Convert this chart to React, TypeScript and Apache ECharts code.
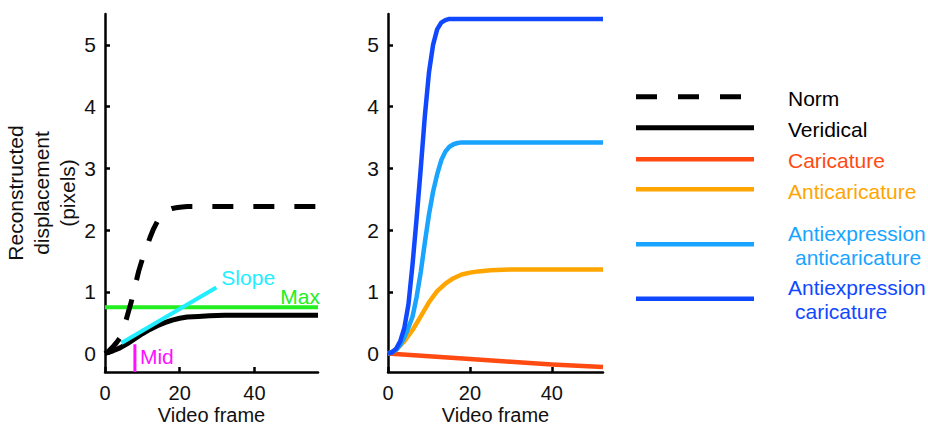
import React, { useEffect, useRef } from "react";
import * as echarts from "echarts";

// ---------- data ----------
const xTicks = [0, 20, 40];
const yTicks = [0, 1, 2, 3, 4, 5];
const yMin = -0.3;
const yMax = 5.5;
const leftXMax = 57;
const rightXMax = 52.5;

// Left panel
const normFrames = [0, 1, 2, 3, 4, 5, 6, 7, 8, 9, 10, 11, 12, 13, 14, 15, 16, 17, 18, 19, 20, 22, 25, 57];
const normValues = [0, 0.04, 0.1, 0.17, 0.25, 0.4, 0.62, 0.83, 1.08, 1.33, 1.53, 1.7, 1.87, 2.02, 2.14, 2.23, 2.29, 2.33, 2.35, 2.36, 2.37, 2.38, 2.38, 2.38];

const veridicalFrames = [0, 2, 4, 6, 8, 10, 12, 14, 16, 18, 20, 22, 25, 28, 32, 57];
const veridicalValues = [0, 0.04, 0.09, 0.16, 0.24, 0.32, 0.39, 0.45, 0.5, 0.54, 0.57, 0.59, 0.6, 0.61, 0.62, 0.62];

const maxFrames = [0, 57];
const maxValues = [0.75, 0.75];
const slopeFrames = [4.4, 29.8];
const slopeValues = [0.17, 1.07];
const midFrames = [8, 8];
const midValues = [-0.3, 0.15];

// Right panel
const caricatureFrames = [0, 10, 20, 30, 40, 52.5];
const caricatureValues = [0, -0.045, -0.09, -0.135, -0.18, -0.22];

const anticaricatureFrames = [0, 2, 4, 6, 8, 10, 12, 14, 16, 18, 20, 22, 25, 30, 52.5];
const anticaricatureValues = [0, 0.06, 0.2, 0.38, 0.6, 0.83, 1.01, 1.13, 1.22, 1.28, 1.31, 1.33, 1.35, 1.36, 1.36];

const antiAntiFrames = [0, 1, 2, 3, 4, 5, 6, 7, 8, 9, 10, 11, 12, 13, 14, 15, 16, 17, 18, 52.5];
const antiAntiValues = [0, 0.02, 0.06, 0.14, 0.26, 0.42, 0.6, 0.92, 1.32, 1.8, 2.25, 2.62, 2.9, 3.13, 3.27, 3.35, 3.39, 3.41, 3.42, 3.42];

const antiCaricFrames = [0, 1, 2, 3, 4, 5, 6, 7, 8, 9, 10, 11, 12, 13, 14, 15, 52.5];
const antiCaricValues = [0, 0.02, 0.08, 0.2, 0.42, 0.8, 1.45, 2.2, 3.0, 3.85, 4.55, 5.0, 5.25, 5.36, 5.4, 5.42, 5.42];

const legendLabels = ["Norm", "Veridical", "Caricature", "Anticaricature", "Antiexpression\nanticaricature", "Antiexpression\ncaricature"];

// ---------- styles ----------
const FONT = "'Liberation Sans', Arial, sans-serif";
const FS = 21;
const C_NORM = "#000000";
const C_CARIC = "#ff4a12";
const C_ANTICARIC = "#ffa500";
const C_AEAC = "#18a4ff";
const C_AEC = "#1048ff";
const C_MAX = "#22ee22";
const C_SLOPE = "#22eeff";
const C_MID = "#ff11ff";

const zip = (xs: number[], ys: number[]) => xs.map((x, i) => [x, ys[i]]);

function lineSeries(name: string, xi: number, xs: number[], ys: number[], color: string, width: number, type: any = "solid", z = 2) {
  return {
    type: "line",
    name,
    xAxisIndex: xi,
    yAxisIndex: xi,
    data: zip(xs, ys),
    showSymbol: false,
    symbol: "none",
    silent: true,
    z,
    lineStyle: { color, width, type, cap: "butt", join: "round" },
  };
}

function axisX(gridIndex: number, max: number) {
  return {
    type: "value",
    gridIndex,
    min: 0,
    max,
    name: "Video frame",
    nameLocation: "middle",
    nameGap: 33,
    nameMoveOverlap: false,
    nameTextStyle: { fontFamily: FONT, fontSize: 20, color: "#111" },
    axisLine: { onZero: false, lineStyle: { color: "#000", width: 2.5 } },
    axisTick: { inside: true, length: 5, customValues: xTicks, lineStyle: { color: "#000", width: 2.5 } },
    axisLabel: { customValues: xTicks, margin: 11, fontFamily: FONT, fontSize: 20, color: "#111" },
    splitLine: { show: false },
  };
}

function axisY(gridIndex: number, withName: boolean) {
  return {
    type: "value",
    gridIndex,
    min: yMin,
    max: yMax,
    name: withName ? "Reconstructed\ndisplacement\n(pixels)" : "",
    nameLocation: "middle",
    nameRotate: 90,
    nameGap: 21,
    nameTextStyle: { fontFamily: FONT, fontSize: FS, color: "#111", lineHeight: 26, align: "center" },
    axisLine: { onZero: false, lineStyle: { color: "#000", width: 2.5 } },
    axisTick: { inside: true, length: 5, customValues: yTicks, lineStyle: { color: "#000", width: 2.5 } },
    axisLabel: { customValues: yTicks, margin: 9, fontFamily: FONT, fontSize: FS, color: "#111" },
    splitLine: { show: false },
  };
}

export default function App() {
  const ref = useRef<HTMLDivElement>(null);

  useEffect(() => {
    if (!ref.current) return;
    const chart = echarts.init(ref.current, null, { renderer: "svg", width: 928, height: 428 });

    const legendColors = [C_NORM, C_NORM, C_CARIC, C_ANTICARIC, C_AEAC, C_AEC];
    const legendLineY = [96.7, 127.7, 159.3, 189.3, 244.3, 298.7];
    const legendTextY = [98, 129, 160, 191, 245, 299];

    const legendGraphics: any[] = [];
    legendLabels.forEach((lbl, i) => {
      legendGraphics.push({
        type: "line",
        silent: true,
        shape: { x1: 636, y1: legendLineY[i], x2: 754, y2: legendLineY[i] },
        style: {
          stroke: legendColors[i],
          lineWidth: i < 2 ? 5 : 4.5,
          lineDash: i === 0 ? [21, 21] : null,
          lineCap: "butt",
        },
      });
      const lines = lbl.split("\n");
      if (lines.length === 1) {
        legendGraphics.push({
          type: "text",
          silent: true,
          x: 788,
          y: legendTextY[i],
          style: { text: lbl, fill: legendColors[i], font: `${FS}px ${FONT}`, textAlign: "left", textVerticalAlign: "middle" },
        });
      } else {
        legendGraphics.push({
          type: "text",
          silent: true,
          x: 788,
          y: legendTextY[i] - 12,
          style: { text: lines[0], fill: legendColors[i], font: `${FS}px ${FONT}`, textAlign: "left", textVerticalAlign: "middle" },
        });
        legendGraphics.push({
          type: "text",
          silent: true,
          x: 795,
          y: legendTextY[i] + 12,
          style: { text: lines[1], fill: legendColors[i], font: `${FS}px ${FONT}`, textAlign: "left", textVerticalAlign: "middle" },
        });
      }
    });

    chart.setOption({
      animation: false,
      backgroundColor: "#ffffff",
      grid: [
        { left: 105, top: 14, width: 213, height: 358, outerBoundsMode: "none", containLabel: false },
        { left: 388, top: 14, width: 215, height: 358, outerBoundsMode: "none", containLabel: false },
      ],
      xAxis: [axisX(0, leftXMax), axisX(1, rightXMax)],
      yAxis: [axisY(0, true), axisY(1, false)],
      series: [
        lineSeries("Max", 0, maxFrames, maxValues, C_MAX, 4, "solid", 2),
        lineSeries("Mid", 0, midFrames, midValues, C_MID, 3, "solid", 3),
        lineSeries("Veridical", 0, veridicalFrames, veridicalValues, C_NORM, 5, "solid", 4),
        lineSeries("Slope", 0, slopeFrames, slopeValues, C_SLOPE, 4, "solid", 5),
        lineSeries("Norm", 0, normFrames, normValues, C_NORM, 5, [21, 20], 6),
        lineSeries("Caricature", 1, caricatureFrames, caricatureValues, C_CARIC, 4.5, "solid", 2),
        lineSeries("Anticaricature", 1, anticaricatureFrames, anticaricatureValues, C_ANTICARIC, 4.5, "solid", 3),
        lineSeries("Antiexpression anticaricature", 1, antiAntiFrames, antiAntiValues, C_AEAC, 4.5, "solid", 4),
        lineSeries("Antiexpression caricature", 1, antiCaricFrames, antiCaricValues, C_AEC, 4.5, "solid", 5),
      ],
      graphic: legendGraphics,
    });

    // Annotation labels positioned through the chart's own scales
    const slopeEnd = chart.convertToPixel({ gridIndex: 0 }, [slopeFrames[1], slopeValues[1]]) as number[];
    const maxEnd = chart.convertToPixel({ gridIndex: 0 }, [maxFrames[1], maxValues[1]]) as number[];
    const midAnchor = chart.convertToPixel({ gridIndex: 0 }, [midFrames[0], 0]) as number[];

    chart.setOption({
      graphic: [
        ...legendGraphics,
        {
          type: "text",
          silent: true,
          x: slopeEnd[0] + 5,
          y: slopeEnd[1] - 10,
          style: { text: "Slope", fill: C_SLOPE, font: `${FS}px ${FONT}`, textAlign: "left", textVerticalAlign: "middle" },
        },
        {
          type: "text",
          silent: true,
          x: maxEnd[0] + 2,
          y: maxEnd[1] - 11,
          style: { text: "Max", fill: C_MAX, font: `${FS}px ${FONT}`, textAlign: "right", textVerticalAlign: "middle" },
        },
        {
          type: "text",
          silent: true,
          x: midAnchor[0] + 5,
          y: midAnchor[1] + 3,
          style: { text: "Mid", fill: C_MID, font: `${FS}px ${FONT}`, textAlign: "left", textVerticalAlign: "middle" },
        },
      ],
    });

    return () => chart.dispose();
  }, []);

  return (
    <div
      ref={ref}
      style={{ position: "fixed", left: 0, top: 0, width: 928, height: 428, background: "#fff" }}
    />
  );
}
